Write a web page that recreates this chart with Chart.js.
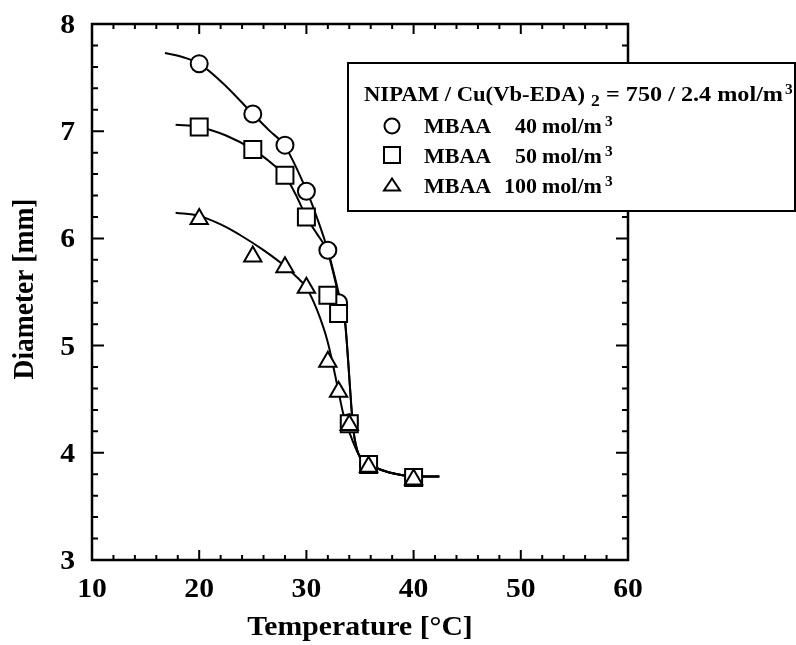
<!DOCTYPE html>
<html>
<head>
<meta charset="utf-8">
<title>Diameter vs Temperature</title>
<script src="https://cdn.jsdelivr.net/npm/chart.js@4.4.1/dist/chart.umd.min.js"></script>
<style>
  html, body { margin: 0; padding: 0; background: #fff; }
  canvas { display: block; }
</style>
</head>
<body>
<canvas id="chart" width="796" height="645"></canvas>
<script>
/* Gel diameter vs temperature, NIPAM / Cu(Vb-EDA)2 gels */

const xTicks = [10, 20, 30, 40, 50, 60];
const yTicks = [3, 4, 5, 6, 7, 8];
const xTitle = 'Temperature [°C]';
const yTitle = 'Diameter [mm]';

// measured points (temperature, diameter)
const tempPts = [20, 25, 28, 30, 32, 33, 34, 35.8, 40];
const dia40 = [7.63, 7.16, 6.87, 6.44, 5.89, 5.40, 4.28, 3.89, 3.77];
const dia50 = [7.04, 6.83, 6.59, 6.20, 5.47, 5.30, 4.27, 3.89, 3.77];
const dia100 = [6.18, 5.83, 5.73, 5.54, 4.85, 4.57, 4.26, 3.87, 3.75];

// fitted curves
const fit40T = [16.8, 18.5, 20, 22.5, 25, 26.5, 28, 30, 31, 32, 32.6, 33.1, 33.6, 33.9, 34.2, 34.4, 34.85, 35.8, 37, 38.5, 40, 42.4];
const fit40D = [7.73, 7.69, 7.63, 7.42, 7.16, 7.01, 6.86, 6.45, 6.19, 5.89, 5.66, 5.45, 5.24, 4.85, 4.42, 4.20, 3.99, 3.90, 3.84, 3.80, 3.78, 3.78];
const fit50T = [17.8, 20, 22.5, 25, 27, 28, 29, 30, 31, 31.6, 32, 32.6, 33.1, 33.6, 33.9, 34.2, 34.4, 34.85, 35.8, 37, 38.5, 40, 42.4];
const fit50D = [7.06, 7.04, 6.96, 6.83, 6.68, 6.585, 6.41, 6.20, 6.04, 5.95, 5.87, 5.64, 5.43, 5.22, 4.85, 4.42, 4.20, 3.99, 3.90, 3.84, 3.80, 3.78, 3.78];
const fit100T = [17.8, 20, 22, 24, 26, 28, 29, 30, 31, 32, 32.9, 33.45, 34.05, 34.85, 35.8, 37, 38.5, 40, 42.4];
const fit100D = [6.24, 6.21, 6.13, 6.02, 5.89, 5.74, 5.65, 5.54, 5.33, 5.03, 4.62, 4.36, 4.18, 3.99, 3.90, 3.84, 3.80, 3.78, 3.78];

const FONT = '"Liberation Serif", "Times New Roman", serif';
const SX = 1.1; // the figure's lettering is a little wide
const pts = (xs, ys) => xs.map((x, i) => ({ x, y: ys[i] }));

const markerDs = (label, ys, style, radius, order) => ({
  label, data: pts(tempPts, ys), showLine: false,
  pointStyle: style, pointRadius: radius, pointHoverRadius: radius,
  pointBackgroundColor: '#fff', pointBorderColor: '#000', pointBorderWidth: 2, order
});
const curveDs = (xs, ys, order) => ({
  data: pts(xs, ys), showLine: true, pointRadius: 0, pointHoverRadius: 0,
  borderColor: '#000', borderWidth: 2, cubicInterpolationMode: 'monotone', order
});

function wideText(ctx, text, x, y, align, font, sx) {
  ctx.save();
  ctx.font = font;
  ctx.translate(x, y);
  ctx.scale(sx || SX, 1);
  ctx.textAlign = align;
  ctx.textBaseline = 'alphabetic';
  ctx.fillText(text, 0, 0);
  ctx.restore();
}

// stretch a string so it spans a given width, left aligned
function fitText(ctx, text, x, y, width, font) {
  ctx.save();
  ctx.font = font;
  const w = ctx.measureText(text).width;
  ctx.restore();
  wideText(ctx, text, x, y, 'left', font, width / w);
}

// inside ticks on all four sides + frame
const frameTicks = {
  id: 'frameTicks',
  beforeDatasetsDraw(chart) {
    const { ctx, chartArea: a, scales: { x, y } } = chart;
    ctx.save();
    ctx.strokeStyle = '#000';
    ctx.lineWidth = 2;
    ctx.beginPath();
    for (let k = 0; k <= 25; k++) {
      const px = x.getPixelForValue(xTicks[0] + k * 2);
      const len = k % 5 === 0 ? 10 : 5;
      ctx.moveTo(px, a.bottom); ctx.lineTo(px, a.bottom - len);
      ctx.moveTo(px, a.top); ctx.lineTo(px, a.top + len);
    }
    for (let k = 0; k <= 25; k++) {
      const py = y.getPixelForValue(yTicks[0] + k * 0.2);
      const len = k % 5 === 0 ? 12 : 6;
      ctx.moveTo(a.left, py); ctx.lineTo(a.left + len, py);
      ctx.moveTo(a.right, py); ctx.lineTo(a.right - len, py);
    }
    ctx.stroke();
    ctx.lineWidth = 2.5;
    ctx.strokeRect(a.left, a.top, a.width, a.height);
    ctx.restore();
  },
  afterDraw(chart) {
    const { ctx, chartArea: a, scales: { x, y } } = chart;
    ctx.save();
    ctx.fillStyle = '#000';

    // tick labels and axis titles
    const tickFont = 'bold 27px ' + FONT;
    xTicks.forEach(v => wideText(ctx, String(v), x.getPixelForValue(v), a.bottom + 37, 'center', tickFont));
    yTicks.forEach(v => wideText(ctx, String(v), a.left - 17, y.getPixelForValue(v) + 9, 'right', tickFont));
    const titleFont = 'bold 27px ' + FONT;
    wideText(ctx, xTitle, (a.left + a.right) / 2, 635, 'center', titleFont);
    ctx.save();
    ctx.translate(33, 289);
    ctx.rotate(-Math.PI / 2);
    ctx.scale(1, SX);
    ctx.font = 'bold 27.5px ' + FONT;
    ctx.textAlign = 'center';
    ctx.fillText(yTitle, 0, 0);
    ctx.restore();

    // legend box
    ctx.fillStyle = '#fff';
    ctx.strokeStyle = '#000';
    ctx.lineWidth = 2;
    ctx.fillRect(348, 63, 447, 148);
    ctx.strokeRect(348, 63, 447, 148);

    ctx.fillStyle = '#000';
    const big = 'bold 20px ' + FONT;
    const sup = 'bold 14px ' + FONT;
    // header
    fitText(ctx, 'NIPAM / Cu(Vb-EDA)', 364, 101, 221, big);
    wideText(ctx, '2', 591, 106, 'left', 'bold 16px ' + FONT);
    fitText(ctx, '= 750 / 2.4 mol/m', 606, 101, 177, big);
    wideText(ctx, '3', 785, 94, 'left', sup);

    const rows = [
      { n: '40', style: 'circle', y: 126, base: 133 },
      { n: '50', style: 'rect', y: 155, base: 163 },
      { n: '100', style: 'triangle', y: 185, base: 193 },
    ];
    rows.forEach(r => {
      ctx.lineWidth = 2;
      ctx.strokeStyle = '#000';
      ctx.fillStyle = '#fff';
      ctx.beginPath();
      const cx = 392;
      if (r.style === 'circle') ctx.arc(cx, r.y, 7.5, 0, Math.PI * 2);
      else if (r.style === 'rect') ctx.rect(cx - 8, r.y - 8, 16, 16);
      else { ctx.moveTo(cx, r.y - 6.5); ctx.lineTo(cx + 8, r.y + 5.5); ctx.lineTo(cx - 8, r.y + 5.5); ctx.closePath(); }
      ctx.fill(); ctx.stroke();
      ctx.fillStyle = '#000';
      wideText(ctx, 'MBAA', 424, r.base, 'left', big);
      wideText(ctx, r.n, 537, r.base, 'right', big);
      wideText(ctx, 'mol/m', 542, r.base, 'left', big);
      wideText(ctx, '3', 605, r.base - 7, 'left', sup);
    });
    ctx.restore();
  }
};

new Chart(document.getElementById('chart'), {
  type: 'scatter',
  data: {
    datasets: [
      markerDs('MBAA 100 mol/m3', dia100, 'triangle', 10, 0),
      markerDs('MBAA 50 mol/m3', dia50, 'rect', 12, 1),
      markerDs('MBAA 40 mol/m3', dia40, 'circle', 8.5, 2),
      curveDs(fit40T, fit40D, 3),
      curveDs(fit50T, fit50D, 4),
      curveDs(fit100T, fit100D, 5),
    ]
  },
  options: {
    responsive: false,
    animation: false,
    layout: { padding: { top: 24, right: 168, left: 0, bottom: 0 } },
    plugins: { legend: { display: false }, tooltip: { enabled: false } },
    scales: {
      x: {
        type: 'linear', min: 10, max: 60,
        afterFit: s => { s.height = 85; },
        afterBuildTicks: s => { s.ticks = xTicks.map(v => ({ value: v })); },
        grid: { display: false, drawTicks: false },
        border: { display: false },
        ticks: { display: false }
      },
      y: {
        type: 'linear', min: 3, max: 8,
        afterFit: s => { s.width = 92; },
        afterBuildTicks: s => { s.ticks = yTicks.map(v => ({ value: v })); },
        grid: { display: false, drawTicks: false },
        border: { display: false },
        ticks: { display: false }
      }
    }
  },
  plugins: [frameTicks]
});
</script>
</body>
</html>
